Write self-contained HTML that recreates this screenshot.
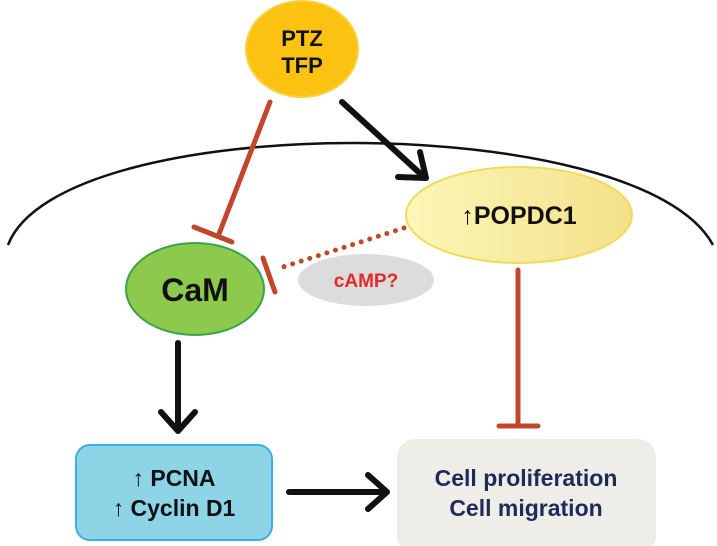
<!DOCTYPE html>
<html><head><style>
body{margin:0;background:#fff}
svg{display:block}
text{font-family:"Liberation Sans",sans-serif;font-weight:bold;text-anchor:middle}
</style></head><body>
<svg width="717" height="546" viewBox="0 0 717 546">
<defs>
<linearGradient id="y" x1="0" x2="1"><stop offset="0" stop-color="#fdf6b8"/><stop offset="1" stop-color="#f3e189"/></linearGradient>
</defs>
<path d="M8,245 C60,109 640,109 713,245" fill="none" stroke="#111" stroke-width="2.5"/>
<ellipse cx="302" cy="49" rx="56" ry="48" fill="#fcc211" stroke="#f8d23c" stroke-width="2"/>
<text x="302" y="46" font-size="22" fill="#111">PTZ</text>
<text x="302" y="73" font-size="22" fill="#111">TFP</text>
<ellipse cx="519" cy="215" rx="113" ry="48" fill="url(#y)" stroke="#eedc5a" stroke-width="2"/>
<text x="519" y="224" font-size="25" fill="#111">↑POPDC1</text>
<ellipse cx="195" cy="289" rx="69" ry="46" fill="#8cc94c" stroke="#3aa548" stroke-width="2"/>
<text x="195" y="301" font-size="32" fill="#111">CaM</text>
<ellipse cx="366" cy="280" rx="68" ry="26" fill="#dcdcdc"/>
<text x="366" y="287" font-size="19" fill="#e32a2a">cAMP?</text>
<g stroke="#c0472a" stroke-width="5" stroke-linecap="round">
<line x1="270" y1="102" x2="219" y2="234"/>
<line x1="194" y1="227" x2="232" y2="242"/>
<line x1="404" y1="228" x2="280" y2="268" stroke-dasharray="0 9"/>
<line x1="263" y1="258" x2="275" y2="292"/>
<line x1="518" y1="270" x2="518" y2="425"/>
<line x1="499" y1="426" x2="538" y2="426"/>
</g>
<g stroke="#111" stroke-width="6" stroke-linecap="round" fill="none" stroke-linejoin="round">
<line x1="342" y1="102" x2="424" y2="177"/>
<polyline points="398,177 426,178 420,152"/>
<line x1="178" y1="343" x2="178" y2="430"/>
<polyline points="161,412 178,431 195,412"/>
<line x1="289" y1="492" x2="386" y2="492"/>
<polyline points="368,475 387,492 368,509"/>
</g>
<rect x="76" y="445" width="196" height="95" rx="14" fill="#8dd4e6" stroke="#3bb0e0" stroke-width="2"/>
<text x="174" y="486" font-size="23" fill="#111">↑ PCNA</text>
<text x="174" y="516" font-size="23" fill="#111">↑ Cyclin D1</text>
<rect x="397" y="439" width="259" height="115" rx="18" fill="#efede7"/>
<text x="526" y="486" font-size="23" fill="#1f2a5a">Cell proliferation</text>
<text x="526" y="516" font-size="23" fill="#1f2a5a">Cell migration</text>
</svg>
</body></html>
